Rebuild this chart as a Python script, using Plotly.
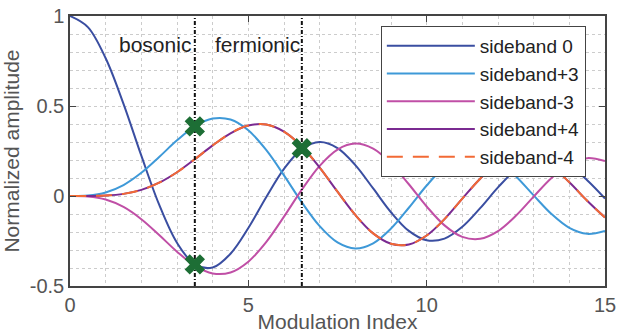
import plotly.graph_objects as go

# Modulation index samples
mod_index = [0.0, 0.5, 1.0, 1.5, 2.0, 2.5, 3.0, 3.5, 4.0, 4.5, 5.0, 5.5, 6.0, 6.5, 7.0, 7.5,
             8.0, 8.5, 9.0, 9.5, 10.0, 10.5, 11.0, 11.5, 12.0, 12.5, 13.0, 13.5, 14.0, 14.5, 15.0]

sideband_0 = [1.0, 0.9385, 0.7652, 0.5118, 0.2239, -0.0484, -0.2601, -0.3801, -0.3971, -0.3205,
              -0.1776, -0.0068, 0.1506, 0.2601, 0.3001, 0.2663, 0.1717, 0.0419, -0.0903, -0.1939,
              -0.2459, -0.2366, -0.1712, -0.0677, 0.0477, 0.1469, 0.2069, 0.2150, 0.1711, 0.0875, -0.0142]

sideband_p3 = [0.0, 0.0026, 0.0196, 0.0610, 0.1289, 0.2167, 0.3091, 0.3868, 0.4302, 0.4247,
               0.3649, 0.2561, 0.1148, -0.0354, -0.1676, -0.2580, -0.2911, -0.2626, -0.1809, -0.0653,
               0.0583, 0.1633, 0.2274, 0.2381, 0.1951, 0.1100, 0.0033, -0.1000, -0.1768, -0.2102, -0.1940]

sideband_m3 = [-0.0, -0.0026, -0.0196, -0.0610, -0.1289, -0.2167, -0.3091, -0.3868, -0.4302, -0.4247,
               -0.3649, -0.2561, -0.1148, 0.0354, 0.1676, 0.2580, 0.2911, 0.2626, 0.1809, 0.0653,
               -0.0583, -0.1633, -0.2274, -0.2381, -0.1951, -0.1100, -0.0033, 0.1000, 0.1768, 0.2102, 0.1940]

sideband_p4 = [0.0, 0.0002, 0.0025, 0.0118, 0.0340, 0.0738, 0.1320, 0.2044, 0.2811, 0.3485,
               0.3912, 0.3967, 0.3576, 0.2747, 0.1578, 0.0238, -0.1054, -0.2078, -0.2655, -0.2691,
               -0.2196, -0.1283, -0.0150, 0.0962, 0.1825, 0.2262, 0.2193, 0.1650, 0.0762, -0.0262, -0.1192]

sideband_m4 = list(sideband_p4)

# Marked points
marker_x = [3.5, 3.5, 6.5]
marker_y = [0.3868, -0.3801, 0.265]

# Boundaries
boundaries = [3.5, 6.5]

FONT = "Liberation Sans, Arial, Helvetica, sans-serif"

fig = go.Figure()

series = [
    ("sideband 0", sideband_0, "#3a4ea1", "solid"),
    ("sideband+3", sideband_p3, "#3e99d8", "solid"),
    ("sideband-3", sideband_m3, "#c04fa6", "solid"),
    ("sideband+4", sideband_p4, "#7a2a91", "solid"),
    ("sideband-4", sideband_m4, "#f26a35", "16px,10px"),
]
for name, vals, color, dash in series:
    fig.add_trace(go.Scatter(
        x=mod_index, y=vals, name=name, mode="lines",
        line=dict(color=color, width=2, dash=dash, shape="spline", smoothing=1.0),
    ))

for bx in boundaries:
    fig.add_trace(go.Scatter(
        x=[bx, bx], y=[-0.5, 1.0], mode="lines", showlegend=False,
        line=dict(color="#111111", width=2, dash="4px,2px,1px,2px"), hoverinfo="skip",
    ))

fig.add_trace(go.Scatter(
    x=marker_x, y=marker_y, mode="markers", showlegend=False,
    marker=dict(symbol="x", size=18, color="#1d6e35", line=dict(width=0)),
))

fig.add_annotation(x=2.38, y=0.84, text="bosonic", showarrow=False,
                   font=dict(size=21, color="#222222", family=FONT))
fig.add_annotation(x=5.25, y=0.84, text="fermionic", showarrow=False,
                   font=dict(size=21, color="#222222", family=FONT))

axis_common = dict(
    showline=True, linecolor="#444444", linewidth=1.5, mirror="ticks",
    ticks="inside", ticklen=6, tickcolor="#444444",
    showgrid=True, gridcolor="#cccccc", griddash="dot", gridwidth=1,
    zeroline=False, automargin=False,
    tickfont=dict(size=20, color="#555555", family=FONT),
)

fig.update_xaxes(range=[0, 15], tickvals=[0, 5, 10, 15], ticktext=["0", "5", "10", "15"],
                 minor=dict(dtick=1, showgrid=True, gridcolor="#cccccc", griddash="dot", ticks=""),
                 title=dict(text="Modulation Index", standoff=0,
                            font=dict(size=21, color="#555555", family=FONT)),
                 **axis_common)
fig.update_yaxes(range=[-0.5, 1.0], tickvals=[-0.5, 0, 0.5, 1], ticktext=["-0.5", "0", "0.5", "1"],
                 minor=dict(dtick=0.1, showgrid=True, gridcolor="#cccccc", griddash="dot", ticks=""),
                 title=dict(text="Normalized amplitude", standoff=4,
                            font=dict(size=21, color="#555555", family=FONT)),
                 **axis_common)

fig.update_layout(
    width=630, height=333,
    margin=dict(l=70, r=25, t=16, b=47),
    plot_bgcolor="white", paper_bgcolor="white",
    legend=dict(x=0.581, y=0.963, xanchor="left", yanchor="top",
                bordercolor="#444444", borderwidth=1, bgcolor="white",
                font=dict(size=19, color="#222222", family=FONT),
                itemwidth=88, tracegroupgap=0),
    font=dict(family=FONT),
)

fig.write_html("out.html", config={"displayModeBar": False},
               post_script="document.body.style.margin='0px';")
